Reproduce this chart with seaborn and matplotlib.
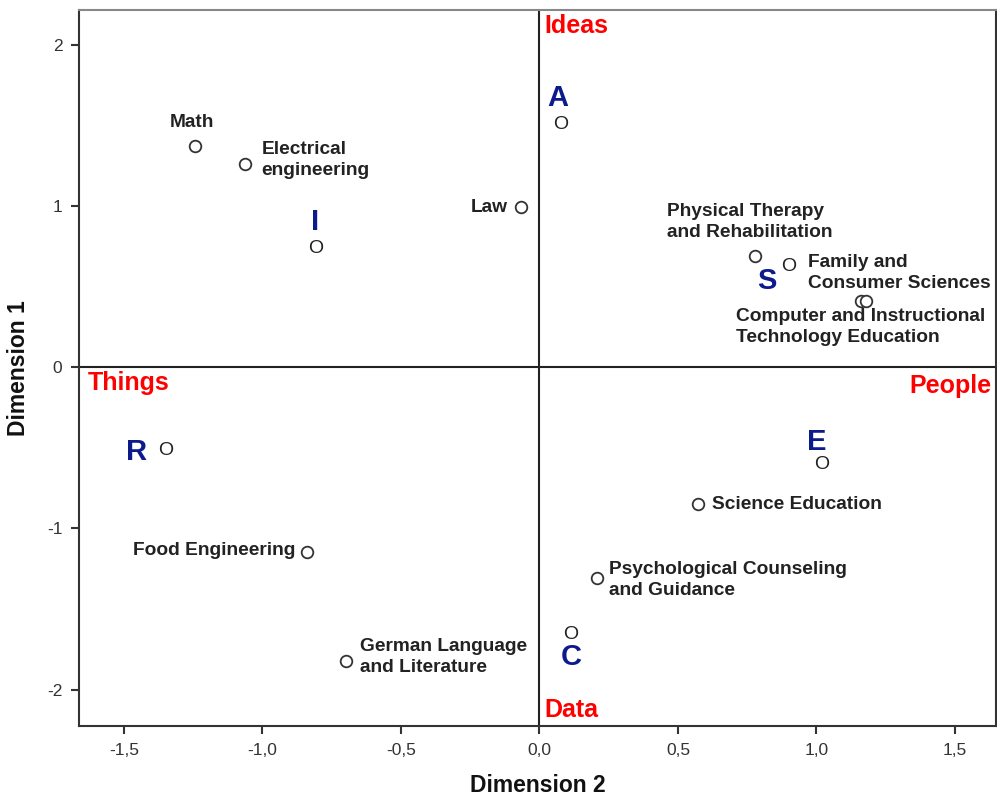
import pandas as pd
import numpy as np
import matplotlib.pyplot as plt
import seaborn as sns
from matplotlib.ticker import FuncFormatter, FixedLocator

# Programs (Dimension 2 = x, Dimension 1 = y)
programs = ['Math', 'Electrical\nengineering', 'Law', 'Physical Therapy\nand Rehabilitation',
            'Family and\nConsumer Sciences', 'Computer and Instructional\nTechnology Education',
            'Science Education', 'Food Engineering', 'Psychological Counseling\nand Guidance',
            'German Language\nand Literature']
prog_dim2 = [-1.244, -1.064, -0.065, 0.779, 1.161, 1.179, 0.573, -0.840, 0.209, -0.700]
prog_dim1 = [1.371, 1.259, 0.992, 0.688, 0.409, 0.409, -0.850, -1.147, -1.309, -1.823]

# RIASEC types
types = ['R', 'I', 'A', 'S', 'E', 'C']
type_dim2 = [-1.349, -0.808, 0.076, 0.898, 1.017, 0.112]
type_dim1 = [-0.515, 0.738, 1.507, 0.626, -0.602, -1.656]

# label offsets in pixels (layout only)
prog_offsets = [(-3, 23, 'center'), (17, 4, 'left'), (-14, 0, 'right'), (-88, 34, 'left'),
                (-53, 28, 'left'), (-130, -26, 'left'), (14, 0, 'left'), (-11, 1, 'right'),
                (12, -2, 'left'), (14, 4, 'left')]
type_offsets = [(-29, -2), (-1, 26), (-3, 26), (-21, -15), (-4, 22), (1, -23)]

sns.set_theme(style='white')
plt.rcParams['font.family'] = ['Liberation Sans', 'DejaVu Sans']

fig = plt.figure(figsize=(9.97, 7.98), dpi=100)
ax = fig.add_axes([79 / 997, 72 / 798, 917 / 997, 716 / 798])

df = pd.DataFrame({'dim2': prog_dim2, 'dim1': prog_dim1, 'program': programs})
sns.scatterplot(data=df, x='dim2', y='dim1', ax=ax, marker='o', s=70,
                facecolor='white', edgecolor='#333333', linewidth=1.3, zorder=3)

for name, x, y, (dx, dy, ha) in zip(programs, prog_dim2, prog_dim1, prog_offsets):
    ax.annotate(name, (x, y), xytext=(dx, dy), textcoords='offset pixels',
                ha=ha, va='center', fontsize=13.8, fontweight='bold', color='#222222',
                multialignment='left', linespacing=1.3)

for t, x, y, (dx, dy) in zip(types, type_dim2, type_dim1, type_offsets):
    ax.text(x, y, 'O', ha='center', va='center', fontsize=14, color='#222222', zorder=4)
    ax.annotate(t, (x, y), xytext=(dx, dy), textcoords='offset pixels',
                ha='center', va='center', fontsize=21, fontweight='bold', color='#0d1a8c')

ax.axvline(0, color='#222222', lw=1.5, zorder=1)
ax.axhline(0, color='#222222', lw=1.5, zorder=1)

red = dict(color='#ff0000', fontsize=18, fontweight='bold', transform=ax.transAxes)
ax.text(0.508, 0.978, 'Ideas', ha='left', va='center', **red)
ax.text(0.0098, 0.479, 'Things', ha='left', va='center', **red)
ax.text(0.9956, 0.475, 'People', ha='right', va='center', **red)
ax.text(0.508, 0.022, 'Data', ha='left', va='center', **red)

ax.set_xlim(-1.662, 1.648)
ax.set_ylim(-2.226, 2.214)
ax.xaxis.set_major_locator(FixedLocator([-1.5, -1.0, -0.5, 0.0, 0.5, 1.0, 1.5]))
ax.yaxis.set_major_locator(FixedLocator([-2, -1, 0, 1, 2]))
ax.xaxis.set_major_formatter(FuncFormatter(lambda v, p: f'{v:.1f}'.replace('.', ',')))
ax.yaxis.set_major_formatter(FuncFormatter(lambda v, p: f'{v:.0f}'))
ax.tick_params(axis='both', direction='out', length=6, width=1.5, color='#333333',
               labelsize=12.5, labelcolor='#333333', bottom=True, left=True, pad=6)

for side in ['left', 'bottom', 'right']:
    ax.spines[side].set_color('#333333')
    ax.spines[side].set_linewidth(1.5)
ax.spines['top'].set_color('#888888')
ax.spines['top'].set_linewidth(1.5)

ax.set_xlabel('Dimension 2', fontsize=16.5, fontweight='bold', color='#111111', labelpad=12)
ax.set_ylabel('Dimension 1', fontsize=16.5, fontweight='bold', color='#111111', labelpad=12)

fig.savefig('out.png', dpi=100)
